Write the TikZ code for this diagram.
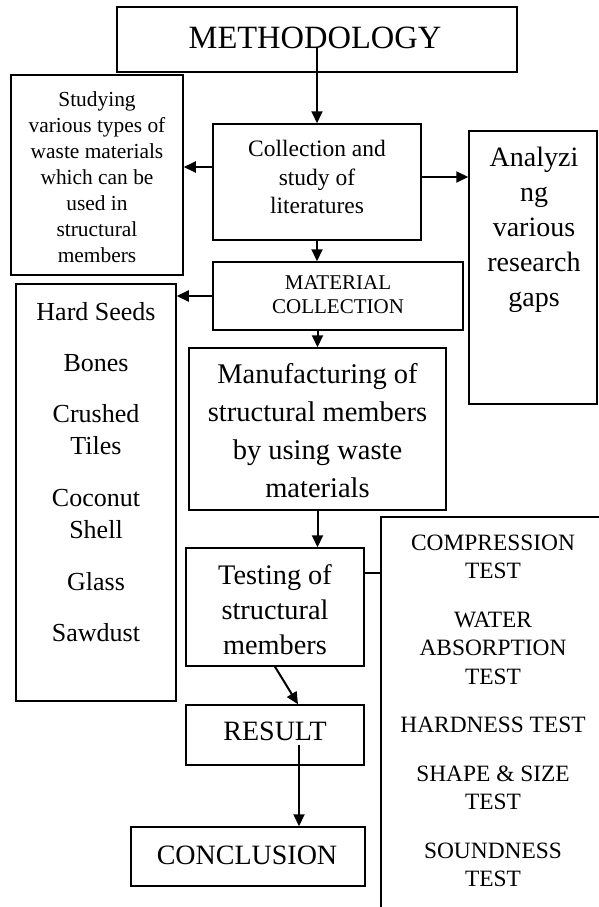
\documentclass[tikz,border=0pt]{standalone}
\usepackage{fontspec}
\setmainfont{Liberation Serif}
\usetikzlibrary{arrows.meta}
\begin{document}
\begin{tikzpicture}[x=1pt,y=-1pt,
  box/.style={draw, line width=1.5pt, rectangle, inner sep=0pt},
  txt/.style={align=center, inner sep=0pt},
  arr/.style={line width=2pt, -{Triangle[length=12pt,width=11pt]}},
  conn/.style={line width=2pt}]
\useasboundingbox (0,0) rectangle (599,907);
\clip (0,0) rectangle (599,907);
% boxes
\node[box, minimum width=400pt, minimum height=65pt] (meth) at (317,39.5) {};
\node[box, minimum width=172pt, minimum height=200pt] (stud) at (97,175) {};
\node[box, minimum width=208pt, minimum height=116pt] (coll) at (317,182) {};
\node[box, minimum width=128pt, minimum height=273pt] (anal) at (533,267.5) {};
\node[box, minimum width=250pt, minimum height=68pt] (mat) at (338,296) {};
\node[box, minimum width=160pt, minimum height=417pt] (hard) at (96,492.5) {};
\node[box, minimum width=257pt, minimum height=162pt] (manu) at (317.5,429) {};
\node[box, minimum width=178pt, minimum height=118pt] (test) at (275,607) {};
\node[box, minimum width=178pt, minimum height=60pt] (res) at (275,735) {};
\node[box, minimum width=234pt, minimum height=59pt] (conc) at (248,856.5) {};
\node[box, minimum width=249pt, minimum height=423pt] (tests) at (505.5,728.5) {};
% texts
\node[txt, font=\fontsize{32.5}{38}\selectfont] (methT) at (315,38) {METHODOLOGY};
\node[txt, font=\fontsize{21.4}{26}\selectfont] (studT) at (97,177) {Studying\\various types of\\waste materials\\which can be\\used in\\structural\\members};
\node[txt, font=\fontsize{23.5}{28.5}\selectfont] (collT) at (317,177) {Collection and\\study of\\literatures};
\node[txt, font=\fontsize{28}{35}\selectfont] (analT) at (534,230) {Analyzi\\ng\\various\\research\\gaps};
\node[txt, font=\fontsize{21}{24}\selectfont] (matT) at (338,295) {MATERIAL\\COLLECTION};
\node[txt, font=\fontsize{26}{32}\selectfont] (hardT) at (96,472) {Hard Seeds\\[19pt]Bones\\[19pt]Crushed\\Tiles\\[20pt]Coconut\\Shell\\[20pt]Glass\\[19pt]Sawdust};
\node[txt, font=\fontsize{28.5}{38}\selectfont] (manuT) at (317.5,431) {Manufacturing of\\structural members\\by using waste\\materials};
\node[txt, font=\fontsize{28.3}{35}\selectfont] (testT) at (275,610) {Testing of\\structural\\members};
\node[txt, font=\fontsize{28}{34}\selectfont] (resT) at (275,731) {RESULT};
\node[txt, font=\fontsize{28}{34}\selectfont] (concT) at (247,855) {CONCLUSION};
\node[txt, font=\fontsize{23.4}{28.5}\selectfont] (testsT) at (493,711) {COMPRESSION\\TEST\\[20pt]WATER\\ABSORPTION\\TEST\\[20pt]HARDNESS TEST\\[20pt]SHAPE \& SIZE\\TEST\\[20pt]SOUNDNESS\\TEST};
% connectors
\draw[arr] ([yshift=-8pt]meth.center) -- (coll.north);
\draw[arr] ([yshift=15pt]coll.west) -- ([yshift=15pt]coll.west -| stud.east);
\draw[arr] ([yshift=5pt]coll.east) -- ([yshift=5pt]coll.east -| anal.west);
\draw[arr] (coll.south) -- (coll.south |- mat.north);
\draw[arr] (mat.west) -- (mat.west -| hard.east);
\draw[arr] (mat.south -| manu.north) -- (manu.north);
\draw[arr] (manu.south) -- (manu.south |- test.north);
\draw[arr] (test.south) -- ([xshift=23pt]res.north);
\draw[arr] ([xshift=24pt,yshift=-10pt]res.center) -- ([xshift=24pt]res.center |- conc.north);
\draw[conn] ([yshift=34pt]test.east) -- ([yshift=34pt]test.east -| tests.west);
\end{tikzpicture}
\end{document}
